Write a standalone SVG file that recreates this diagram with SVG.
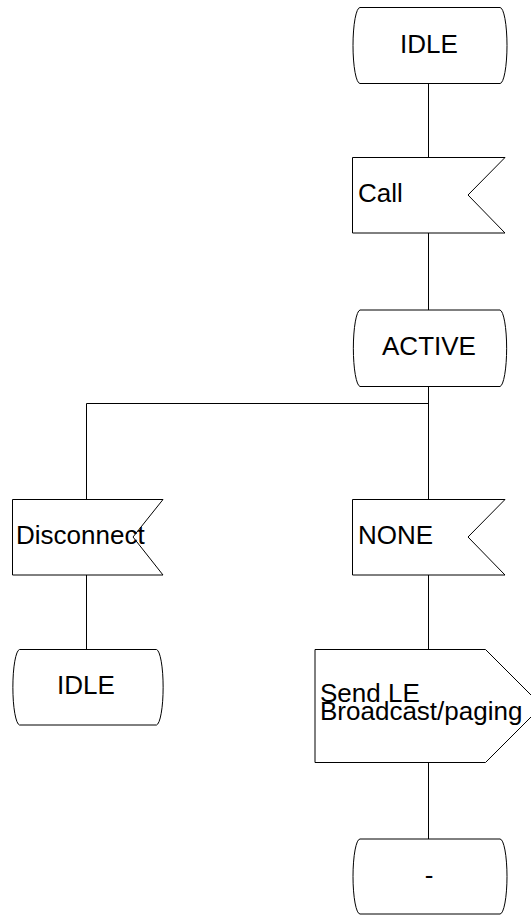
<svg xmlns="http://www.w3.org/2000/svg" width="531" height="915" viewBox="0 0 531 915">
  <style>
    .shape { fill: #fff; stroke: #000; stroke-width: 1; }
    .wire { fill: none; stroke: #000; stroke-width: 1; }
    text { font-family: "Liberation Sans", Arial, sans-serif; font-size: 26px; fill: #000; }
    .mid { text-anchor: middle; }
  </style>

  <!-- connectors -->
  <g id="connectors">
    <path class="wire" d="M428.5,84 V157.5"/>
    <path class="wire" d="M428.5,233 V310"/>
    <path class="wire" d="M428.5,386.5 V499.5"/>
    <path class="wire" d="M428.5,403.5 H86.5 V499.5"/>
    <path class="wire" d="M86.5,575 V649.5"/>
    <path class="wire" d="M428.5,575 V649.5"/>
    <path class="wire" d="M428.5,762.5 V839"/>
  </g>

  <!-- state: IDLE (start) -->
  <g id="state-idle-top">
    <path class="shape" d="M360,7.5 H500 A7,38 0 0 1 500,83.5 H360 A7,38 0 0 1 360,7.5 Z"/>
    <text class="mid" x="429" y="52.5">IDLE</text>
  </g>

  <!-- input: Call -->
  <g id="input-call">
    <path class="shape" d="M352.5,157.5 H505 L468,195 L505,233 H352.5 Z"/>
    <text x="358" y="201.5">Call</text>
  </g>

  <!-- state: ACTIVE -->
  <g id="state-active">
    <path class="shape" d="M360,310 H500 A7,38.3 0 0 1 500,386.5 H360 A7,38.3 0 0 1 360,310 Z"/>
    <text class="mid" x="429" y="354.5">ACTIVE</text>
  </g>

  <!-- input: Disconnect -->
  <g id="input-disconnect">
    <path class="shape" d="M12.5,499.5 H163 L133,537 L163,575 H12.5 Z"/>
    <text x="16" y="544">Disconnect</text>
  </g>

  <!-- input: NONE -->
  <g id="input-none">
    <path class="shape" d="M352.5,499.5 H505 L468,537 L505,575 H352.5 Z"/>
    <text x="358" y="544">NONE</text>
  </g>

  <!-- state: IDLE (after disconnect) -->
  <g id="state-idle-bottom">
    <path class="shape" d="M19.5,649.5 H156.5 A7,37.8 0 0 1 156.5,725 H19.5 A7,37.8 0 0 1 19.5,649.5 Z"/>
    <text class="mid" x="86" y="693.5">IDLE</text>
  </g>

  <!-- output: Send LE Broadcast/paging -->
  <g id="output-send">
    <path class="shape" d="M315,649.5 H485.5 L542,706 L485.5,762.5 H315 Z"/>
    <text x="320" y="701.5">Send LE</text>
    <text x="320" y="720">Broadcast/paging</text>
  </g>

  <!-- state: - (unchanged) -->
  <g id="state-dash">
    <path class="shape" d="M360,839 H500 A7,37.5 0 0 1 500,914 H360 A7,37.5 0 0 1 360,839 Z"/>
    <text class="mid" x="429" y="884">-</text>
  </g>
</svg>
